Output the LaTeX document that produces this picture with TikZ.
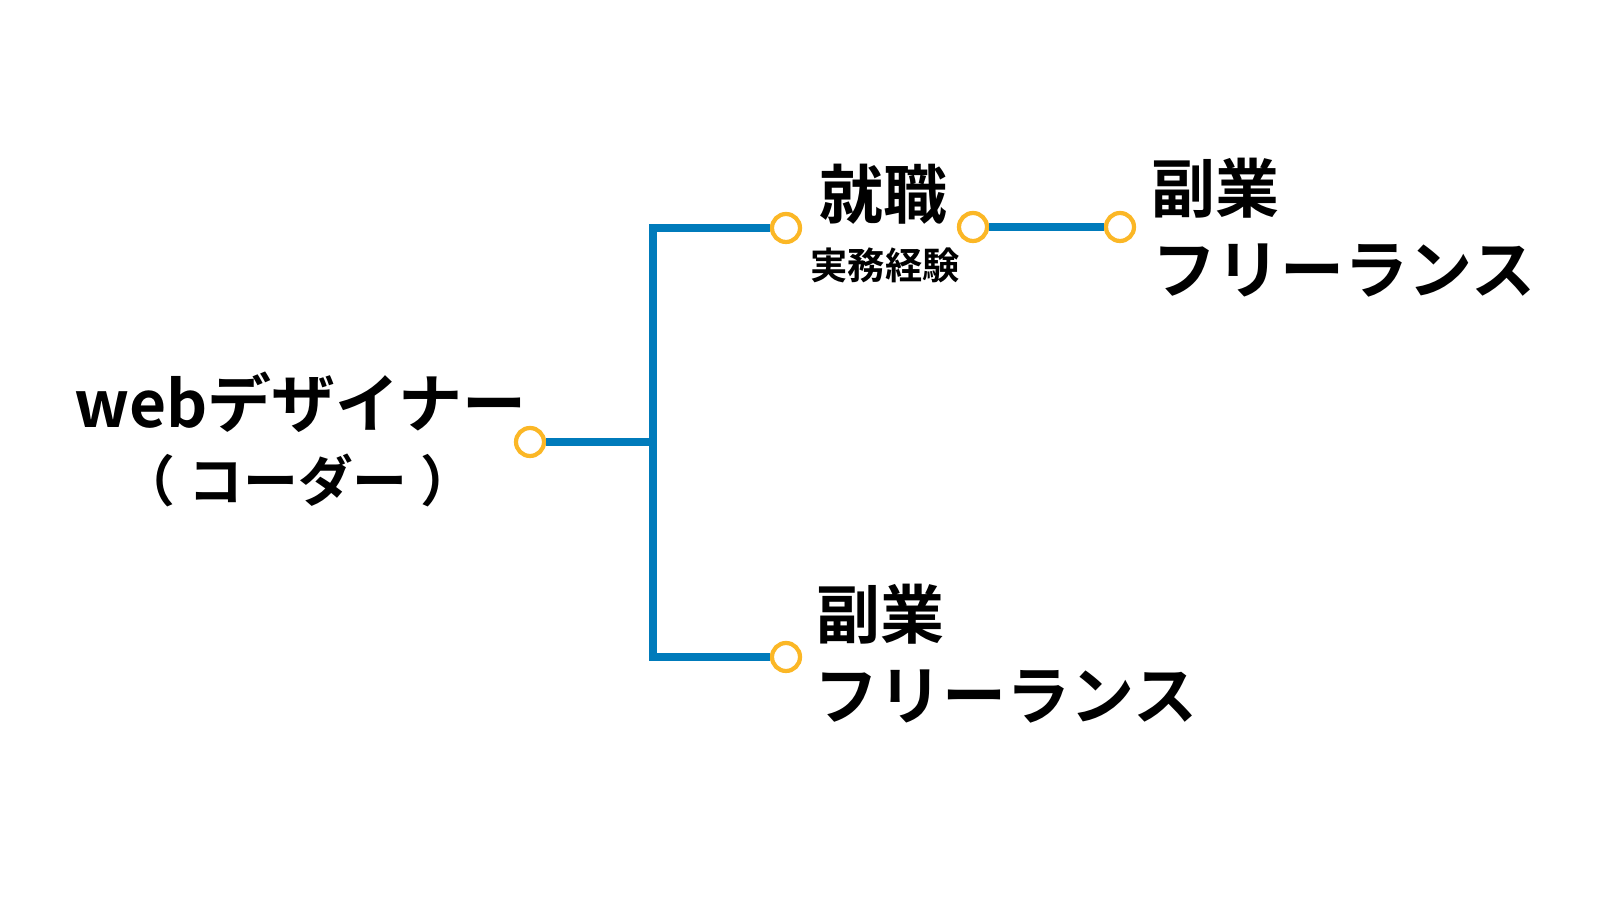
\documentclass[tikz,border=0pt]{standalone}
\usepackage{fontspec}
\setmainfont{Noto Sans CJK JP}[BoldFont={Noto Sans CJK JP Bold}]
\usepackage{tikz}
\definecolor{lineblue}{HTML}{007BBB}
\definecolor{dotyellow}{HTML}{FBB726}
\tikzset{
  dot/.style={circle, draw=dotyellow, fill=white, line width=1.2pt, minimum size=0.28cm, inner sep=0pt},
  link/.style={draw=lineblue, line width=2.2pt},
  big/.style={inner sep=0pt, anchor=base west, font=\bfseries\fontsize{18.2pt}{21pt}\selectfont},
  small/.style={inner sep=0pt, anchor=base, font=\bfseries\fontsize{10.6pt}{12pt}\selectfont}
}

\begin{document}
\begin{tikzpicture}[x=0.01cm, y=-0.01cm]
      \useasboundingbox (0, 0) rectangle (1600, 901);

      \node[big] (designer) at (74, 428) {webデザイナー};
      \node[big, anchor=base, font=\bfseries\fontsize{15.6pt}{18pt}\selectfont] (coder) at (298, 502) {（ コーダー ）};

      \node[dot] (start) at (530, 442) {};
      \coordinate (fork) at (653, 442);
      \node[dot] (job) at (786, 228) {};
      \node[dot] (side) at (786, 657) {};
      \node[dot] (jobout) at (973, 227) {};
      \node[dot] (jobside) at (1120, 227) {};

      \draw [link] (start) -- (fork);
      \draw [link] (job) -| (fork) |- (side);
      \draw [link] (jobout) -- (jobside);

      \node[big, anchor=base] (work) at (883, 219) {就職};
      \node[small] (exp) at (885, 280) {実務経験};

      \node[big] (sideA) at (1151, 213) {副業};
      \node[big] (freeA) at (1152, 294) {フリーランス};

      \node[big] (sideB) at (816, 639) {副業};
      \node[big] (freeB) at (814, 720) {フリーランス};
    \end{tikzpicture}
\end{document}
